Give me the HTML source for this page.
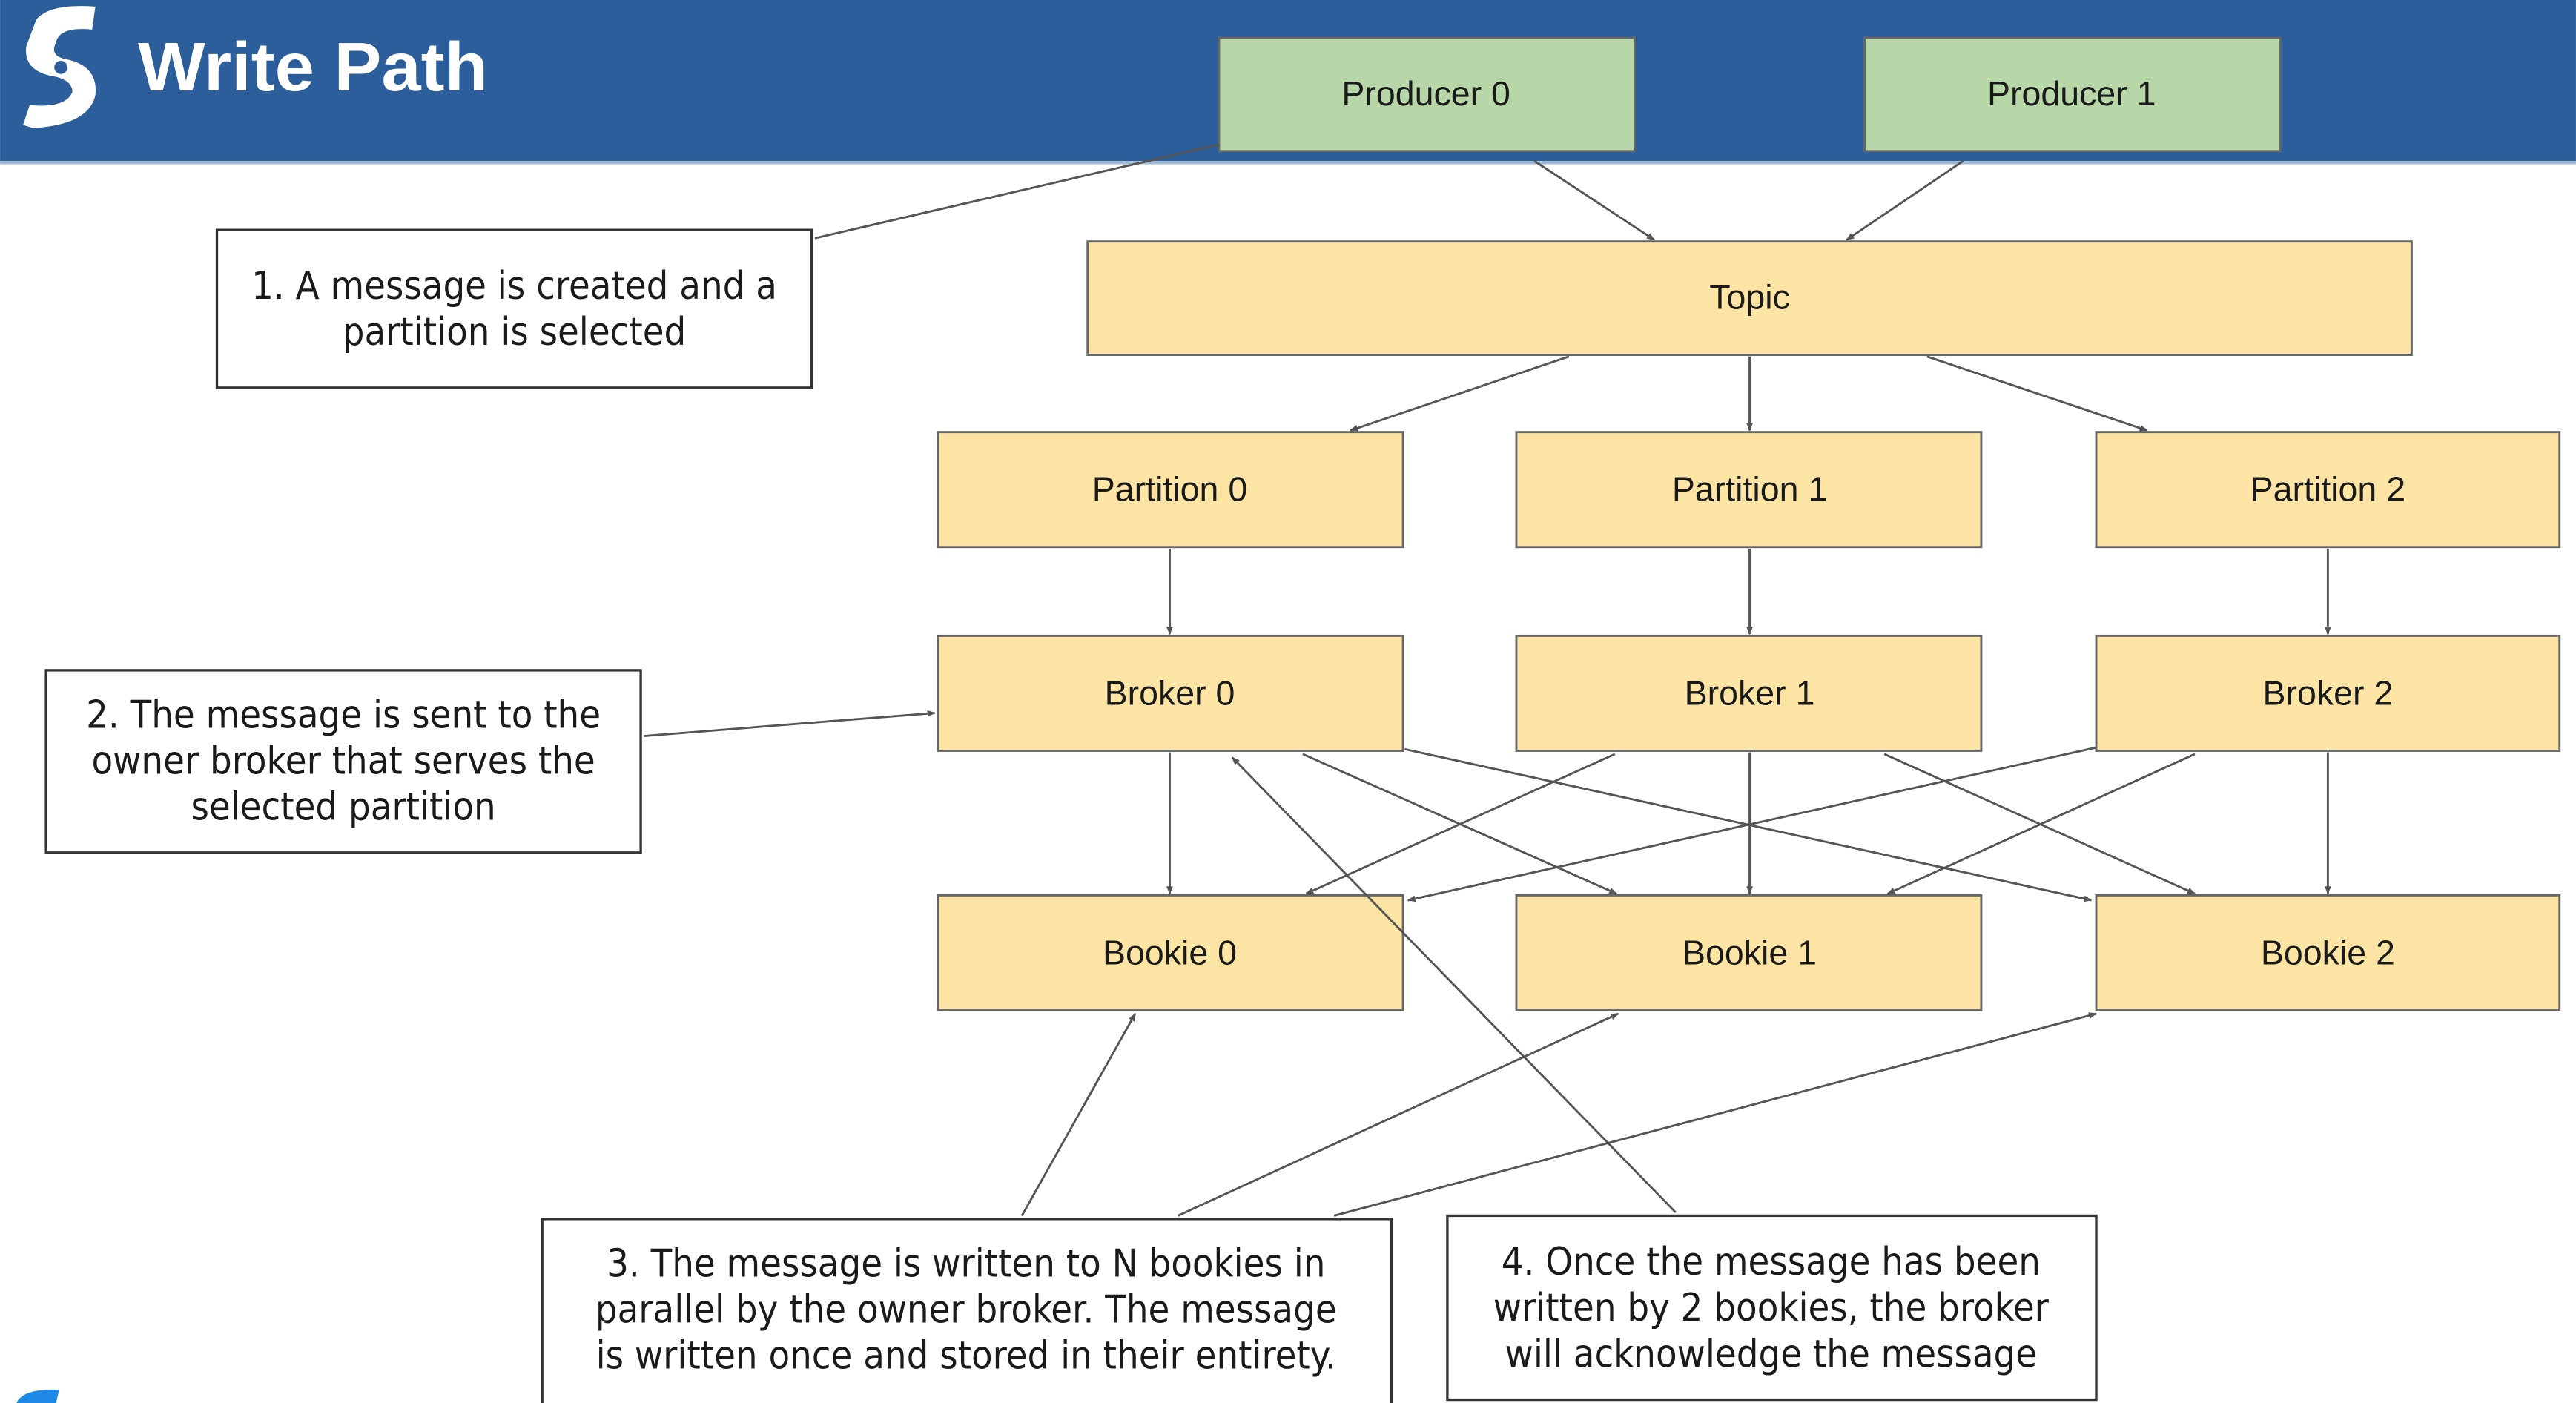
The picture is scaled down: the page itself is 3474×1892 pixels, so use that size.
<!DOCTYPE html>
<html><head><meta charset="utf-8"><style>
html,body{margin:0;padding:0;background:#fff;}
svg{display:block;}
</style></head><body>
<svg width="3474" height="1892" viewBox="0 0 1568 854" xmlns="http://www.w3.org/2000/svg">
<defs>
<marker id="a" viewBox="0 0 10 10" refX="9" refY="5" markerWidth="5" markerHeight="5" orient="auto-start-reverse" markerUnits="userSpaceOnUse">
<path d="M0,1 L10,5 L0,9 z" fill="#555"/></marker>
</defs>
<rect x="0" y="0" width="1568" height="98" fill="#2c5e9c"/>
<rect x="0" y="98" width="1568" height="2" fill="#9fb8d6"/>
<!-- logo -->
<path d="M22,12 Q30,2 58,4 L56,18 Q36,16 34,26 Q30,34 40,36 Q60,40 58,58 Q54,76 20,78 L14,76 L18,64 Q40,66 44,56 Q44,48 30,46 Q14,42 16,28 Z" fill="#fff"/>
<circle cx="37" cy="41" r="4" fill="#2c5e9c"/>
<text x="84" y="55" font-family="Liberation Sans, sans-serif" font-weight="bold" font-size="42" fill="#fff" textLength="213" lengthAdjust="spacingAndGlyphs">Write Path</text>
<path d="M10,854 Q14,845 36,846 L34,854 Z" fill="#1e88e5"/>

<g font-family="Liberation Sans, sans-serif" font-size="21" fill="#1a1a1a" text-anchor="middle">
<g fill="#b7d7a8" stroke="#666" stroke-width="1.3">
<rect x="742" y="23" width="253" height="69"/>
<rect x="1135" y="23" width="253" height="69"/>
</g>
<g fill="#fce5a4" stroke="#666" stroke-width="1.3">
<rect x="662" y="147" width="806" height="69"/>
<rect x="571" y="263" width="283" height="70"/>
<rect x="923" y="263" width="283" height="70"/>
<rect x="1276" y="263" width="282" height="70"/>
<rect x="571" y="387" width="283" height="70"/>
<rect x="923" y="387" width="283" height="70"/>
<rect x="1276" y="387" width="282" height="70"/>
<rect x="571" y="545" width="283" height="70"/>
<rect x="923" y="545" width="283" height="70"/>
<rect x="1276" y="545" width="282" height="70"/>
</g>
<text x="868" y="64">Producer 0</text>
<text x="1261" y="64">Producer 1</text>
<text x="1065" y="188">Topic</text>
<text x="712" y="305">Partition 0</text>
<text x="1065" y="305">Partition 1</text>
<text x="1417" y="305">Partition 2</text>
<text x="712" y="429">Broker 0</text>
<text x="1065" y="429">Broker 1</text>
<text x="1417" y="429">Broker 2</text>
<text x="712" y="587">Bookie 0</text>
<text x="1065" y="587">Bookie 1</text>
<text x="1417" y="587">Bookie 2</text>
</g>

<g stroke="#555" stroke-width="1.3" fill="none" marker-end="url(#a)">
<line x1="934" y1="98" x2="1007" y2="146"/>
<line x1="1195" y1="98" x2="1124" y2="146"/>
<line x1="955" y1="217" x2="822" y2="262"/>
<line x1="1065" y1="217" x2="1065" y2="262"/>
<line x1="1173" y1="217" x2="1307" y2="262"/>
<line x1="712" y1="334" x2="712" y2="386"/>
<line x1="1065" y1="334" x2="1065" y2="386"/>
<line x1="1417" y1="334" x2="1417" y2="386"/>
<line x1="392" y1="448" x2="569" y2="434"/>
<line x1="712" y1="458" x2="712" y2="544"/>
<line x1="793" y1="459" x2="984" y2="544"/>
<line x1="855" y1="456" x2="1273" y2="548"/>
<line x1="983" y1="459" x2="795" y2="544"/>
<line x1="1065" y1="458" x2="1065" y2="544"/>
<line x1="1147" y1="459" x2="1336" y2="544"/>
<line x1="1276" y1="455" x2="857" y2="548"/>
<line x1="1336" y1="459" x2="1149" y2="544"/>
<line x1="1417" y1="458" x2="1417" y2="544"/>
<line x1="622" y1="740" x2="691" y2="617"/>
<line x1="717" y1="740" x2="985" y2="617"/>
<line x1="812" y1="740" x2="1276" y2="617"/>
<line x1="1020" y1="738" x2="750" y2="461"/>
</g>
<line x1="496" y1="145" x2="742" y2="88" stroke="#555" stroke-width="1.3"/>

<g fill="#fff" stroke="#333" stroke-width="1.5">
<rect x="132" y="140" width="362" height="96"/>
<rect x="28" y="408" width="362" height="111"/>
<rect x="330" y="742" width="517" height="120"/>
<rect x="881" y="740" width="395" height="112"/>
</g>
<g font-family="DejaVu Sans Condensed, Liberation Sans, sans-serif" font-size="23.5" fill="#1a1a1a" text-anchor="middle">
<text x="313" y="182">1. A message is created and a</text>
<text x="313" y="210">partition is selected</text>
<text x="209" y="443">2. The message is sent to the</text>
<text x="209" y="471">owner broker that serves the</text>
<text x="209" y="499">selected partition</text>
<text x="588" y="777">3. The message is written to N bookies in</text>
<text x="588" y="805">parallel by the owner broker. The message</text>
<text x="588" y="833">is written once and stored in their entirety.</text>
<text x="1078" y="776">4. Once the message has been</text>
<text x="1078" y="804">written by 2 bookies, the broker</text>
<text x="1078" y="832">will acknowledge the message</text>
</g>
</svg>
</body></html>
